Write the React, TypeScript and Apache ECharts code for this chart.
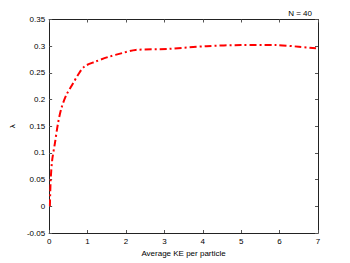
import React, { useEffect, useRef } from "react";
import * as echarts from "echarts";

const keValues = [0.02, 0.04, 0.08, 0.15, 0.23, 0.32, 0.45, 0.62, 0.75, 0.92, 1.2, 1.55, 1.9, 2.25, 3.1, 4.1, 5.0, 5.9, 6.5, 6.95];
const lambdaValues = [0, 0.049, 0.087, 0.118, 0.155, 0.184, 0.209, 0.23, 0.246, 0.262, 0.271, 0.28, 0.287, 0.293, 0.295, 0.3, 0.302, 0.302, 0.299, 0.296];
const titleText = "N = 40";
const xLabel = "Average KE per particle";
const yLabel = "λ";

export default function App() {
  const ref = useRef<HTMLDivElement>(null);
  useEffect(() => {
    if (!ref.current) return;
    const chart = echarts.init(ref.current, null, { renderer: "svg" });
    const font = "Liberation Sans, Arial, sans-serif";
    const axisLine = { show: true, onZero: false, lineStyle: { color: "#222", width: 1 } };
    const tick = { show: true, inside: true, length: 3, lineStyle: { color: "#555" } };
    chart.setOption({
      animation: false,
      backgroundColor: "#fff",
      title: {
        text: titleText,
        right: 33,
        top: 4,
        textStyle: { fontSize: 8, fontWeight: "normal", color: "#000", fontFamily: font },
      },
      grid: { left: 46, right: 32, top: 19.5, bottom: 30 },
      xAxis: [
        {
          type: "value",
          min: 0,
          max: 7,
          interval: 1,
          name: xLabel,
          nameLocation: "middle",
          nameGap: 14,
          nameTextStyle: { fontSize: 8, color: "#000", fontFamily: font },
          axisLine,
          axisTick: tick,
          axisLabel: { fontSize: 8, color: "#000", fontFamily: font, margin: 4 },
          splitLine: { show: false },
        },
        {
          type: "value",
          position: "top",
          min: 0,
          max: 7,
          interval: 1,
          axisLine,
          axisTick: tick,
          axisLabel: { show: false },
          splitLine: { show: false },
        },
      ],
      yAxis: [
        {
          type: "value",
          min: -0.05,
          max: 0.35,
          interval: 0.05,
          name: yLabel,
          nameLocation: "middle",
          nameGap: 31,
          nameRotate: 90,
          nameTextStyle: { fontSize: 8, color: "#000", fontFamily: font },
          axisLine,
          axisTick: tick,
          axisLabel: {
            fontSize: 8,
            color: "#000",
            fontFamily: font,
            margin: 4,
            formatter: (v: number) => String(Math.round(v * 100) / 100),
          },
          splitLine: { show: false },
        },
        {
          type: "value",
          position: "right",
          min: -0.05,
          max: 0.35,
          interval: 0.05,
          axisLine,
          axisTick: tick,
          axisLabel: { show: false },
          splitLine: { show: false },
        },
      ],
      series: [
        {
          type: "line",
          data: keValues.map((k, i) => [k, lambdaValues[i]]),
          smooth: 0.3,
          showSymbol: false,
          symbol: "none",
          lineStyle: { color: "#ff0000", width: 2, type: [7, 3, 2, 3] },
        },
      ],
    });
    return () => chart.dispose();
  }, []);
  return <div ref={ref} style={{ width: 350, height: 263, position: "absolute", left: 0, top: 0 }} />;
}
